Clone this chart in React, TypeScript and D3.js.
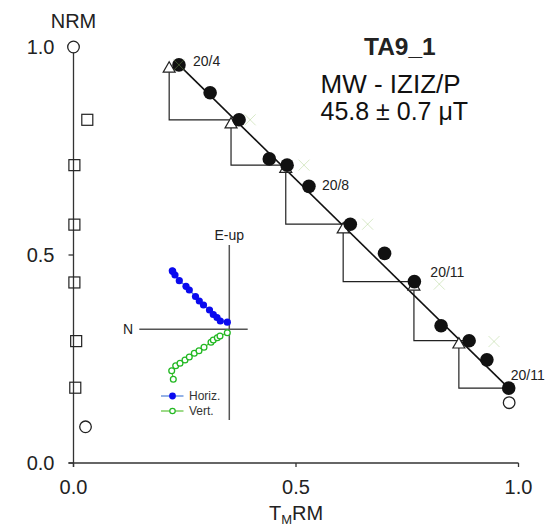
import React from "react";
import * as d3 from "d3";

// ---- Arai plot data ----
const stepTrm = [0.237, 0.307, 0.372, 0.44, 0.48, 0.529, 0.622, 0.699, 0.766, 0.826, 0.889, 0.929, 0.978];
const stepNrm = [0.957, 0.89, 0.825, 0.731, 0.716, 0.665, 0.574, 0.504, 0.436, 0.33, 0.294, 0.248, 0.18];
const stepLabels = ["20/4", "", "", "", "", "20/8", "", "", "20/11", "", "", "", "20/11"];

const checkTrm = [0.215, 0.354, 0.477, 0.606, 0.765, 0.866];
const checkNrm = [0.949, 0.815, 0.708, 0.5625, 0.425, 0.286];
const checkFrom = [2, 4, 6, 8, 10, 12];

const tailTrm = [0.237, 0.397, 0.518, 0.661, 0.822, 0.945];
const tailNrm = [0.957, 0.825, 0.716, 0.574, 0.43, 0.292];

const axisSqX = [0.031, 0.002, 0.002, 0.002, 0.006, 0.004];
const axisSqY = [0.825, 0.716, 0.573, 0.434, 0.293, 0.181];

const openX = [0.0, 0.027, 0.979];
const openY = [1.0, 0.087, 0.145];

const xTicks = [0, 0.5, 1.0];
const yTicks = [0, 0.5, 1.0];

// ---- Zijderveld inset data ----
const horizN = [0.57, 0.566, 0.543, 0.5, 0.433, 0.4, 0.338, 0.3, 0.258, 0.198, 0.16, 0.123, 0.09, 0.02];
const horizE = [0.585, 0.58, 0.543, 0.486, 0.43, 0.393, 0.328, 0.283, 0.243, 0.193, 0.148, 0.118, 0.083, 0.071];
const vertN = [0.56, 0.576, 0.536, 0.493, 0.443, 0.4, 0.35, 0.303, 0.253, 0.183, 0.16, 0.12, 0.093, 0.02];
const vertUp = [-0.5, -0.414, -0.364, -0.34, -0.307, -0.277, -0.24, -0.214, -0.18, -0.13, -0.107, -0.084, -0.067, -0.034];

const FONT = "'Liberation Sans', Arial, Helvetica, sans-serif";

export default function App() {
  const x = d3.scaleLinear().domain([0, 1]).range([73.5, 518.5]);
  const y = d3.scaleLinear().domain([0, 1]).range([463, 47]);

  const zx = d3.scaleLinear().domain([0, 1]).range([229.3, 129.3]);
  const zy = d3.scaleLinear().domain([0, 1]).range([329.3, 229.3]);

  const line = d3.line<[number, number]>().x((d) => d[0]).y((d) => d[1]);

  const fitPts: [number, number][] = [
    [x(stepTrm[0]), y(stepNrm[0])],
    [x(stepTrm[stepTrm.length - 1]), y(stepNrm[stepNrm.length - 1])],
  ];

  const tri = d3.symbol().type(d3.symbolTriangle).size(62);
  const horizPts: [number, number][] = horizN.map((n, i) => [zx(n), zy(horizE[i])]);
  const vertPts: [number, number][] = vertN.map((n, i) => [zx(n), zy(vertUp[i])]);

  const labelOffsets: Record<number, [number, number]> = {
    0: [14, 1],
    5: [13, 4],
    8: [16, -5],
    12: [2, -8],
  };

  return (
    <svg
      width={549}
      height={526}
      style={{ position: "absolute", left: 0, top: 0, background: "#fff" }}
      fontFamily={FONT}
    >
      <rect width={549} height={526} fill="#fff" />

      {/* axes */}
      <line x1={x(0)} x2={x(0)} y1={y(1)} y2={y(0) + 4} stroke="#333" strokeWidth={1.3} />
      <line x1={x(0) - 5} x2={x(1)} y1={y(0)} y2={y(0)} stroke="#333" strokeWidth={1.3} />
      {xTicks.map((t) => (
        <g key={"xt" + t}>
          <line x1={x(t)} x2={x(t)} y1={y(0)} y2={y(0) + 4} stroke="#333" strokeWidth={1.3} />
          <text x={x(t)} y={y(0) + 31} textAnchor="middle" fontSize={20} fill="#222">
            {d3.format(".1f")(t)}
          </text>
        </g>
      ))}
      {yTicks.map((t) => (
        <g key={"yt" + t}>
          <line x1={x(0) - 5} x2={x(0)} y1={y(t)} y2={y(t)} stroke="#333" strokeWidth={1.3} />
          <text x={x(0) - 19} y={y(t) + 7} textAnchor="end" fontSize={20} fill="#222">
            {d3.format(".1f")(t)}
          </text>
        </g>
      ))}
      <text x={x(0)} y={28} textAnchor="middle" fontSize={20} fill="#222">NRM</text>
      <text x={x(0.5)} y={520} textAnchor="middle" fontSize={20} fill="#222">
        T<tspan fontSize={13} dy={3.5}>M</tspan>
        <tspan dy={-3.5}>RM</tspan>
      </text>

      {/* pTRM check lines */}
      {checkTrm.map((c, i) => {
        const s = checkFrom[i];
        const pts: [number, number][] = [
          [x(stepTrm[s]), y(stepNrm[s])],
          [x(c), y(stepNrm[s])],
          [x(c), y(checkNrm[i])],
        ];
        return <path key={"cl" + i} d={line(pts) || ""} fill="none" stroke="#222" strokeWidth={1.2} />;
      })}

      {/* fit line */}
      <path d={line(fitPts) || ""} stroke="#111" strokeWidth={1.6} fill="none" />

      {/* triangles */}
      {checkTrm.map((c, i) => (
        <path
          key={"tr" + i}
          d={tri() || ""}
          transform={`translate(${x(c)},${y(checkNrm[i]) + 0.5})`}
          fill="#fff"
          stroke="#222"
          strokeWidth={1.2}
        />
      ))}

      {/* NRM-axis squares */}
      {axisSqX.map((v, i) => (
        <rect
          key={"sq" + i}
          x={x(v) - 5.5}
          y={y(axisSqY[i]) - 5.5}
          width={11}
          height={11}
          fill="#fff"
          fillOpacity={0}
          stroke="#222"
          strokeWidth={1.2}
        />
      ))}

      {/* open circles */}
      {openX.map((v, i) => (
        <circle key={"oc" + i} cx={x(v)} cy={y(openY[i])} r={5.8} fill="#fff" stroke="#222" strokeWidth={1.3} />
      ))}

      {/* steps */}
      {stepTrm.map((v, i) => (
        <circle key={"st" + i} cx={x(v)} cy={y(stepNrm[i])} r={6.8} fill="#111" />
      ))}

      {/* tail checks */}
      {tailTrm.map((v, i) => {
        const cx = x(v);
        const cy = y(tailNrm[i]);
        const s = 5.5;
        return (
          <g key={"tc" + i} stroke="#8fc060" strokeOpacity={0.35} strokeWidth={1}>
            <line x1={cx - s} x2={cx + s} y1={cy - s} y2={cy + s} />
            <line x1={cx - s} x2={cx + s} y1={cy + s} y2={cy - s} />
          </g>
        );
      })}

      {/* step labels */}
      {stepLabels.map((lab, i) =>
        lab ? (
          <text
            key={"lb" + i}
            x={x(stepTrm[i]) + labelOffsets[i][0]}
            y={y(stepNrm[i]) + labelOffsets[i][1]}
            fontSize={14}
            fill="#222"
          >
            {lab}
          </text>
        ) : null
      )}

      {/* title block */}
      <text x={364} y={55} fontSize={24.5} fontWeight="bold" fill="#222">TA9_1</text>
      <text x={320.5} y={92.5} fontSize={26} fill="#111">MW - IZIZ/P</text>
      <text x={320.5} y={119.5} fontSize={25} fill="#111">45.8 ± 0.7 μT</text>

      {/* Zijderveld inset */}
      <line x1={139.3} x2={247.7} y1={zy(0)} y2={zy(0)} stroke="#555" strokeWidth={1.5} />
      <line x1={zx(0)} x2={zx(0)} y1={245} y2={420} stroke="#555" strokeWidth={1.5} />
      <text x={zx(0)} y={239.5} textAnchor="middle" fontSize={14} fill="#222">E-up</text>
      <text x={133} y={zy(0) + 5} textAnchor="end" fontSize={14} fill="#222">N</text>

      <path d={line(horizPts) || ""} fill="none" stroke="#4d7fd6" strokeWidth={1.2} />
      {horizPts.map((p, i) => (
        <circle key={"h" + i} cx={p[0]} cy={p[1]} r={3.6} fill="#0a0aef" />
      ))}
      <path d={line(vertPts) || ""} fill="none" stroke="#5cc23a" strokeWidth={1.2} />
      {vertPts.map((p, i) => (
        <circle key={"v" + i} cx={p[0]} cy={p[1]} r={2.9} fill="#fff" stroke="#22b822" strokeWidth={1.3} />
      ))}

      {/* legend */}
      <line x1={161} x2={183.5} y1={396} y2={396} stroke="#4d7fd6" strokeWidth={1.2} />
      <circle cx={172.5} cy={396} r={3.4} fill="#0a0aef" />
      <text x={189} y={400} fontSize={12} fill="#333">Horiz.</text>
      <line x1={161} x2={183.5} y1={411} y2={411} stroke="#5cc23a" strokeWidth={1.2} />
      <circle cx={172.5} cy={411} r={2.7} fill="#fff" stroke="#22b822" strokeWidth={1.2} />
      <text x={189} y={415} fontSize={12} fill="#333">Vert.</text>
    </svg>
  );
}
